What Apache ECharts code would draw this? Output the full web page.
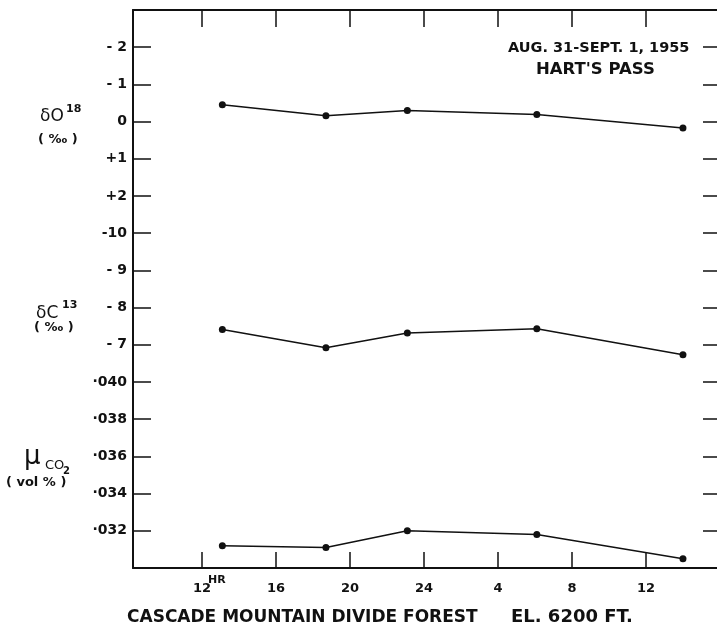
<!DOCTYPE html>
<html>
<head>
<meta charset="utf-8">
<title>Hart's Pass</title>
<script src="https://cdn.jsdelivr.net/npm/echarts@6.0.0/dist/echarts.min.js"></script>
<style>
    html, body { margin: 0; padding: 0; background: #fff; }
    #chart { width: 717px; height: 630px; }
</style>
</head>
<body>
<div id="chart"></div>
<script>
// Sampling times (hours since midnight of Aug 31, 24 = midnight)
var hours = [13.1, 18.7, 23.1, 30.1, 38.0];
var deltaO18 = [-0.45, -0.16, -0.30, -0.19, 0.17];
var deltaC13 = [-7.41, -6.92, -7.32, -7.43, -6.73];
var co2 = [0.0312, 0.0311, 0.0320, 0.0318, 0.0305];

// Tick labels
var hourTicks = [12, 16, 20, 24, 28, 32, 36];
var o18Ticks = [-2, -1, 0, 1, 2];
var c13Ticks = [-10, -9, -8, -7];
var co2Ticks = [0.032, 0.034, 0.036, 0.038, 0.040];

var ink = '#111';
var font = 'DejaVu Sans';

function pairs(xs, ys) {
    var out = [];
    for (var i = 0; i < xs.length; i++) {
        out.push([xs[i], ys[i]]);
    }
    return out;
}

var chart = echarts.init(document.getElementById('chart'));

// three stacked panels sharing one frame, 37.2 px per tick step
var step = 37.2;
var grids = [
    { left: 133, right: 0, top: 10, height: step * 5.5 },
    { left: 133, right: 0, top: 10 + step * 5.5, height: step * 4 },
    { left: 133, right: 0, top: 10 + step * 9.5, height: step * 5.5 }
];

function xAxisFor(idx, position, show) {
    return {
        type: 'value',
        gridIndex: idx,
        position: position,
        min: 8.27,
        max: 39.84,
        splitLine: { show: false },
        axisLine: { show: show, onZero: false, lineStyle: { color: ink, width: 2 } },
        axisTick: {
            show: show,
            inside: true,
            length: position === 'top' ? 17 : 16,
            customValues: hourTicks,
            lineStyle: { color: ink, width: 1.5 }
        },
        axisLabel: {
            show: show && position === 'bottom',
            customValues: hourTicks,
            margin: 14,
            color: ink,
            fontFamily: font,
            fontWeight: 'bold',
            fontSize: 13,
            formatter: function (v) {
                var h = v % 24;
                return String(h === 0 ? 24 : h);
            }
        }
    };
}

function yAxisPair(idx, min, max, inverse, ticks, fmt) {
    return [{
        type: 'value',
        gridIndex: idx,
        position: 'left',
        min: min,
        max: max,
        inverse: inverse,
        splitLine: { show: false },
        axisLine: { show: true, onZero: false, lineStyle: { color: ink, width: 2 } },
        axisTick: {
            show: true,
            inside: true,
            length: 18,
            customValues: ticks,
            lineStyle: { color: ink, width: 1.5 }
        },
        axisLabel: {
            customValues: ticks,
            margin: 6,
            color: ink,
            fontFamily: font,
            fontWeight: 'bold',
            fontSize: 14,
            formatter: fmt
        }
    }, {
        type: 'value',
        gridIndex: idx,
        position: 'right',
        min: min,
        max: max,
        inverse: inverse,
        splitLine: { show: false },
        axisLine: { show: false, onZero: false },
        axisTick: {
            show: true,
            inside: true,
            length: 14,
            customValues: ticks,
            lineStyle: { color: ink, width: 1.5 }
        },
        axisLabel: { show: false }
    }];
}

function fmtO18(v) {
    if (v > 0) return '+' + v;
    if (v < 0) return '- ' + (-v);
    return '0';
}
function fmtC13(v) {
    return v <= -10 ? '-' + (-v) : '- ' + (-v);
}
function fmtCo2(v) {
    return '\u00b7' + String(Math.round(v * 1000)).padStart(3, '0');
}

var yAxes = []
    .concat(yAxisPair(0, -3, 2.5, true, o18Ticks, fmtO18))
    .concat(yAxisPair(1, -10.5, -6.5, true, c13Ticks, fmtC13))
    .concat(yAxisPair(2, 0.030, 0.041, false, co2Ticks, fmtCo2));

function lineSeries(idx, data) {
    return {
        type: 'line',
        xAxisIndex: idx,
        yAxisIndex: idx * 2,
        data: data,
        symbol: 'circle',
        symbolSize: 7,
        silent: true,
        itemStyle: { color: ink },
        lineStyle: { color: ink, width: 1.5 }
    };
}

function txt(left, top, text, size, weight) {
    return {
        type: 'text',
        left: left,
        top: top,
        style: {
            text: text,
            fill: ink,
            font: (weight || 'normal') + ' ' + size + 'px "' + font + '"'
        }
    };
}

var options = {
    animation: false,
    backgroundColor: '#fff',
    grid: grids,
    xAxis: [
        xAxisFor(0, 'top', true),
        xAxisFor(1, 'bottom', false),
        xAxisFor(2, 'bottom', true)
    ],
    yAxis: yAxes,
    series: [
        lineSeries(0, pairs(hours, deltaO18)),
        lineSeries(1, pairs(hours, deltaC13)),
        lineSeries(2, pairs(hours, co2))
    ],
    graphic: [
        // axis names
        txt(40, 108, '\u03b4O', 17),
        txt(66, 104, '18', 11, 'bold'),
        txt(38, 133, '( \u2030 )', 13, 'bold'),
        txt(36, 305, '\u03b4C', 17),
        txt(62, 300, '13', 11, 'bold'),
        txt(34, 321, '( \u2030 )', 13, 'bold'),
        txt(24, 444, '\u03bc', 26),
        txt(45, 459, 'CO', 13),
        txt(63, 466, '2', 10, 'bold'),
        txt(6, 476, '( vol % )', 13, 'bold'),
        // hour superscript
        txt(208, 575, 'HR', 11, 'bold'),
        // annotation
        txt(508, 41, 'AUG. 31-SEPT. 1, 1955', 14.5, 'bold'),
        txt(536, 61, "HART'S PASS", 16.5, 'bold'),
        // caption
        txt(127, 609, 'CASCADE MOUNTAIN DIVIDE FOREST', 17, 'bold'),
        txt(511, 608, 'EL. 6200 FT.', 18, 'bold')
    ]
};

chart.setOption(options);

window.onresize = function () {
    setTimeout(function () {
        chart.resize();
    }, 200);
};
</script>
</body>
</html>
